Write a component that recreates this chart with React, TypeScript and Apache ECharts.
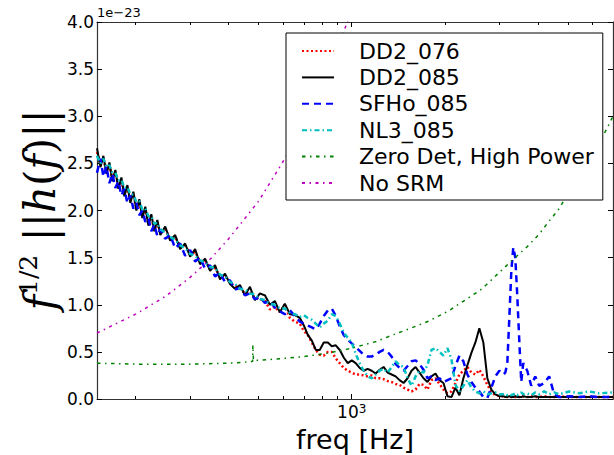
import React, { useEffect, useRef } from 'react';
import * as echarts from 'echarts';

// Common frequency grid (Hz) for the four waveform spectra
const freqs = [
  150, 153.9, 157.3, 160.9, 164.5, 168.2, 172.0, 175.9, 179.9, 183.9, 188.1, 192.3, 196.7, 201.1, 205.6, 210.3, 215.0, 219.9, 224.8, 229.9, 235.1, 240.4,
  249.3, 258.7, 268.5, 278.6, 289.2, 300.1, 311.5, 323.2, 335.5, 348.2, 361.3, 375.0, 389.2, 403.9, 419.2, 435.0, 451.5, 468.6, 486.3, 504.7, 523.8, 543.6, 564.1, 585.5, 607.6, 631.0, 654.8, 679.6,
  700, 721, 743, 765, 788, 812, 837, 862, 888, 915, 942, 971, 1000, 1030, 1061, 1093, 1126, 1160, 1195, 1231, 1268, 1307, 1346, 1387, 1428, 1471, 1516, 1561, 1609, 1657, 1707, 1758, 1811, 1866, 1922, 1980, 2040, 2102, 2165, 2230, 2297, 2367, 2438, 2512, 2587, 2665, 2746, 2829, 2914, 3002,
  3092, 3139, 3186, 3233, 3282, 3331, 3381, 3431, 3483, 3535, 3588, 3696, 3807, 3922, 4040, 4193, 4352, 4516, 4687, 5050, 5439, 5859, 6310, 7000,
];

const dd2_076 = [
  2.62, 2.50, 2.55, 2.42, 2.48, 2.34, 2.40, 2.26, 2.32, 2.18, 2.24, 2.11, 2.17, 2.03, 2.09, 1.95, 2.01, 1.87, 1.93, 1.80, 1.87, 1.76,
  1.80, 1.70, 1.72, 1.62, 1.63, 1.54, 1.56, 1.46, 1.47, 1.38, 1.39, 1.30, 1.31, 1.23, 1.20, 1.17, 1.12, 1.14, 1.07, 1.06, 1.04, 0.95, 0.98, 0.92, 1.00, 0.86, 0.82, 0.80,
  0.72, 0.68, 0.60, 0.52, 0.47, 0.46, 0.50, 0.50, 0.43, 0.38, 0.33, 0.30, 0.28, 0.26, 0.26, 0.25, 0.24, 0.25, 0.22, 0.22, 0.21, 0.19, 0.18, 0.16, 0.15, 0.12, 0.10, 0.08, 0.10, 0.16, 0.15, 0.10, 0.20, 0.22, 0.16, 0.10, 0.06, 0.08, 0.17, 0.26, 0.30, 0.34, 0.28, 0.26, 0.31, 0.24, 0.15, 0.08, 0.04, 0.03,
  0.03, 0.03, 0.02, 0.03, 0.02, 0.03, 0.02, 0.03, 0.02, 0.02, 0.03, 0.02, 0.03, 0.02, 0.02, 0.03, 0.02, 0.02, 0.03, 0.02, 0.02, 0.02, 0.02, 0.02,
];

const dd2_085 = [
  2.66, 2.46, 2.58, 2.39, 2.51, 2.31, 2.43, 2.23, 2.35, 2.15, 2.27, 2.08, 2.20, 2.00, 2.12, 1.92, 2.04, 1.84, 1.96, 1.78, 1.90, 1.74,
  1.83, 1.68, 1.74, 1.59, 1.65, 1.51, 1.59, 1.43, 1.49, 1.36, 1.42, 1.27, 1.33, 1.22, 1.17, 1.21, 1.10, 1.19, 1.05, 1.12, 1.10, 1.00, 1.04, 0.92, 1.01, 0.90, 0.89, 0.86,
  0.78, 0.68, 0.62, 0.52, 0.52, 0.60, 0.60, 0.56, 0.57, 0.52, 0.44, 0.38, 0.41, 0.38, 0.33, 0.30, 0.32, 0.30, 0.27, 0.31, 0.34, 0.28, 0.26, 0.24, 0.20, 0.17, 0.22, 0.30, 0.34, 0.28, 0.22, 0.18, 0.24, 0.27, 0.20, 0.17, 0.03, 0.02, 0.12, 0.04, 0.22, 0.36, 0.49, 0.60, 0.75, 0.60, 0.22, 0.10, 0.05, 0.03,
  0.03, 0.02, 0.02, 0.03, 0.02, 0.02, 0.03, 0.02, 0.02, 0.02, 0.03, 0.02, 0.02, 0.03, 0.02, 0.02, 0.02, 0.02, 0.02, 0.02, 0.02, 0.02, 0.02, 0.02,
];

const sfho_085 = [
  2.40, 2.55, 2.36, 2.47, 2.29, 2.39, 2.24, 2.31, 2.16, 2.23, 2.08, 2.16, 2.02, 2.08, 1.95, 2.00, 1.88, 1.92, 1.78, 1.85, 1.73, 1.80,
  1.70, 1.74, 1.60, 1.65, 1.52, 1.58, 1.46, 1.50, 1.38, 1.42, 1.30, 1.34, 1.24, 1.26, 1.16, 1.18, 1.10, 1.12, 1.06, 1.08, 1.02, 1.04, 0.97, 0.93, 0.90, 0.94, 0.88, 0.82,
  0.80, 0.78, 0.76, 0.74, 0.80, 0.88, 0.94, 0.96, 0.88, 0.77, 0.68, 0.63, 0.59, 0.55, 0.51, 0.47, 0.45, 0.45, 0.47, 0.50, 0.52, 0.50, 0.45, 0.37, 0.33, 0.30, 0.35, 0.40, 0.41, 0.37, 0.31, 0.22, 0.24, 0.20, 0.22, 0.18, 0.20, 0.22, 0.35, 0.46, 0.40, 0.26, 0.18, 0.12, 0.08, 0.02, 0.01, 0.12, 0.24, 0.30,
  0.26, 0.28, 0.38, 0.85, 1.35, 1.61, 1.50, 1.10, 0.62, 0.18, 0.38, 0.30, 0.14, 0.24, 0.14, 0.17, 0.24, 0.05, 0.02, 0.03, 0.02, 0.03, 0.02, 0.02,
];

const nl3_085 = [
  2.58, 2.50, 2.55, 2.46, 2.48, 2.40, 2.40, 2.32, 2.33, 2.24, 2.25, 2.17, 2.17, 2.09, 2.10, 2.01, 2.02, 1.94, 1.94, 1.86, 1.87, 1.80,
  1.77, 1.72, 1.69, 1.63, 1.60, 1.54, 1.52, 1.47, 1.45, 1.40, 1.39, 1.32, 1.30, 1.24, 1.22, 1.17, 1.16, 1.12, 1.11, 1.06, 1.05, 1.01, 1.00, 0.96, 0.96, 0.91, 0.90, 0.87,
  0.89, 0.86, 0.84, 0.80, 0.76, 0.80, 0.83, 0.90, 0.88, 0.80, 0.70, 0.65, 0.60, 0.48, 0.38, 0.30, 0.24, 0.22, 0.26, 0.30, 0.32, 0.28, 0.34, 0.40, 0.36, 0.34, 0.22, 0.14, 0.24, 0.30, 0.28, 0.36, 0.52, 0.54, 0.50, 0.46, 0.54, 0.42, 0.15, 0.08, 0.14, 0.20, 0.12, 0.08, 0.06, 0.08, 0.05, 0.06, 0.07, 0.05,
  0.05, 0.06, 0.04, 0.05, 0.04, 0.05, 0.06, 0.04, 0.05, 0.07, 0.05, 0.06, 0.04, 0.07, 0.05, 0.08, 0.05, 0.07, 0.05, 0.08, 0.06, 0.08, 0.06, 0.07,
];

// Detector noise curves
const zeroDetFreq = [150, 200, 300, 400, 470, 478, 479, 481, 500, 600, 700, 850, 1000, 1200, 1357, 1550, 1785, 2070, 2455, 2641, 3155, 3733, 4040, 4330, 4665, 4805, 5500, 6000, 6500, 7000];
const zeroDetVals = [0.38, 0.37, 0.37, 0.38, 0.395, 0.40, 0.57, 0.41, 0.41, 0.43, 0.45, 0.49, 0.54, 0.61, 0.68, 0.75, 0.83, 0.94, 1.10, 1.17, 1.41, 1.63, 1.75, 1.88, 2.01, 2.08, 2.37, 2.58, 2.79, 3.00];

const noSrmFreq = [150, 200, 250, 300, 350, 400, 450, 500, 600, 700, 800, 900, 1000];
const noSrmVals = [0.70, 0.90, 1.09, 1.29, 1.49, 1.70, 1.91, 2.10, 2.52, 2.92, 3.33, 3.73, 4.12];

const seriesNames = ['DD2_076', 'DD2_085', 'SFHo_085', 'NL3_085', 'Zero Det, High Power', 'No SRM'];

const xMajorTicks = [1000];
const xMinorTicks = [200, 300, 400, 500, 600, 700, 800, 900, 2000, 3000, 4000, 5000, 6000];
const yMin = 0;
const yMax = 4;
const yStep = 0.5;

export default function App() {
  const ref = useRef<HTMLDivElement>(null);
  useEffect(() => {
    const chart = echarts.init(ref.current!, null, { renderer: 'svg' });
    const zip = (xs: number[], ys: number[]) => xs.map((x, i) => [x, ys[i]]);
    const font = 'DejaVu Sans';
    const spine = { color: '#333', width: 1.2 };
    const logBase = { type: 'log', logBase: 10, min: 150, max: 7000, splitLine: { show: false } };
    const grid = { left: 97, top: 22, right: 1, bottom: 56, containLabel: false };

    const mk = (name: string, data: number[][], lineStyle: any) => ({
      name,
      type: 'line',
      data,
      xAxisIndex: 0,
      yAxisIndex: 0,
      showSymbol: false,
      symbol: 'none',
      clip: true,
      silent: true,
      emphasis: { disabled: true },
      lineStyle: { cap: 'butt', ...lineStyle },
      itemStyle: { color: lineStyle.color },
    });

    const option: any = {
      animation: false,
      textStyle: { fontFamily: font },
      grid: [grid, { ...grid }],
      xAxis: [
        {
          ...logBase, gridIndex: 0, position: 'bottom',
          axisLine: { show: true, onZero: false, lineStyle: spine },
          axisTick: { show: true, inside: true, length: 5, customValues: xMajorTicks, lineStyle: { color: '#000', width: 1 } },
          axisLabel: {
            show: true, customValues: xMajorTicks, margin: 4, color: '#000',
            formatter: () => '{b|10}{s|3}',
            rich: {
              b: { fontSize: 17, fontFamily: font, color: '#000', lineHeight: 17 },
              s: { fontSize: 12, fontFamily: font, color: '#000', verticalAlign: 'top', lineHeight: 12 },
            },
          },
        },
        {
          ...logBase, gridIndex: 0, position: 'top',
          axisLine: { show: true, onZero: false, lineStyle: spine },
          axisTick: { show: true, inside: true, length: 5, customValues: xMajorTicks, lineStyle: { color: '#000', width: 1 } },
          axisLabel: { show: false },
        },
        {
          ...logBase, gridIndex: 1, position: 'bottom',
          axisLine: { show: false },
          axisTick: { show: true, inside: true, length: 3, customValues: xMinorTicks, lineStyle: { color: '#000', width: 1 } },
          axisLabel: { show: false },
        },
        {
          ...logBase, gridIndex: 1, position: 'top',
          axisLine: { show: false },
          axisTick: { show: true, inside: true, length: 3, customValues: xMinorTicks, lineStyle: { color: '#000', width: 1 } },
          axisLabel: { show: false },
        },
      ],
      yAxis: [
        {
          type: 'value', gridIndex: 0, position: 'left', min: yMin, max: yMax, interval: yStep,
          splitLine: { show: false },
          axisLine: { show: true, onZero: false, lineStyle: spine },
          axisTick: { show: true, inside: true, length: 5, lineStyle: { color: '#000', width: 1 } },
          axisLabel: { show: true, margin: 3, fontSize: 17, fontFamily: font, color: '#000', formatter: (v: number) => v.toFixed(1) },
        },
        {
          type: 'value', gridIndex: 0, position: 'right', min: yMin, max: yMax, interval: yStep,
          splitLine: { show: false },
          axisLine: { show: true, onZero: false, lineStyle: spine },
          axisTick: { show: true, inside: true, length: 5, lineStyle: { color: '#000', width: 1 } },
          axisLabel: { show: false },
        },
        { type: 'value', gridIndex: 1, min: yMin, max: yMax, show: false },
      ],
      legend: {
        orient: 'vertical',
        left: 286,
        top: 33,
        data: seriesNames,
        itemWidth: 32,
        itemHeight: 14,
        itemGap: 4.4,
        padding: [7, 9, 6, 15],
        backgroundColor: '#fff',
        borderColor: '#000',
        borderWidth: 1,
        borderRadius: 0,
        selectedMode: false,
        itemStyle: { color: 'rgba(0,0,0,0)', borderWidth: 0, opacity: 0 },
        textStyle: { fontSize: 22, lineHeight: 22, fontFamily: font, color: '#000', padding: [0, 0, 0, 20] },
      },
      series: [
        mk(seriesNames[0], zip(freqs, dd2_076), { color: '#ff0000', width: 2.5, type: [2, 2.5] }),
        mk(seriesNames[1], zip(freqs, dd2_085), { color: '#000000', width: 2, type: 'solid' }),
        mk(seriesNames[2], zip(freqs, sfho_085), { color: '#0000ff', width: 2.5, type: [7, 5] }),
        mk(seriesNames[3], zip(freqs, nl3_085), { color: '#00bfbf', width: 2.5, type: [5, 3, 1.5, 3] }),
        mk(seriesNames[4], zip(zeroDetFreq, zeroDetVals), { color: '#008000', width: 1.5, type: [3.5, 4.5, 1.5, 4.5] }),
        mk(seriesNames[5], zip(noSrmFreq, noSrmVals), { color: '#bf00bf', width: 1.5, type: [3, 4.5, 1.5, 4.5] }),
      ],
      graphic: [
        {
          type: 'text', left: 97, top: 6,
          style: { text: '1e\u221223', fontSize: 13, fontFamily: font, fill: '#000' },
        },
        {
          type: 'text', x: 355, y: 439,
          style: { text: 'freq [Hz]', fontSize: 27, lineHeight: 27, fontFamily: font, fill: '#000', align: 'center', verticalAlign: 'middle' },
        },
        {
          type: 'text', x: 40, y: 210, rotation: Math.PI / 2,
          style: {
            text: '{i|f}{s|1/2}{n| ||}{i|h}{n|(}{i|f}{n|)||}',
            align: 'center', verticalAlign: 'middle', fill: '#000',
            rich: {
              i: { fontSize: 42, fontFamily: 'DejaVu Serif', fontStyle: 'italic', fill: '#000', lineHeight: 48 },
              n: { fontSize: 42, fontFamily: 'DejaVu Serif', fill: '#000', lineHeight: 48 },
              s: { fontSize: 25, fontFamily: 'DejaVu Serif', fill: '#000', verticalAlign: 'top', lineHeight: 25 },
            },
          },
        },
      ],
    };
    chart.setOption(option);
    return () => chart.dispose();
  }, []);
  return <div ref={ref} style={{ position: 'absolute', left: 0, top: 0, width: 614, height: 455 }} />;
}
